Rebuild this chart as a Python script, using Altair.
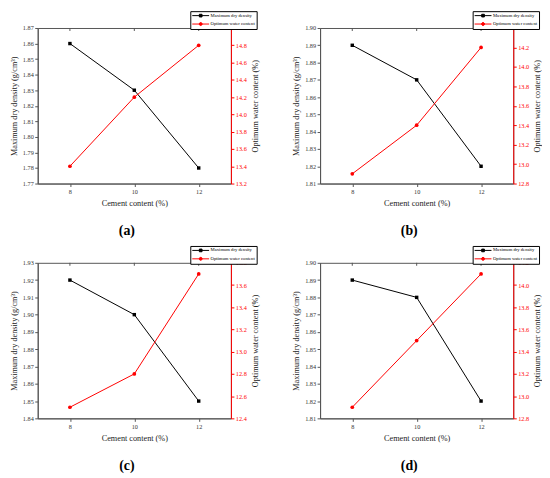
import altair as alt
import pandas as pd

FONT = "Liberation Serif"

cement = [8, 10, 12]
series_names = ["Maximum dry density", "Optimum water content"]
labels = ["(a)", "(b)", "(c)", "(d)"]

mdd_a = [1.86, 1.83, 1.78]
owc_a = [13.4, 14.2, 14.8]
mdd_b = [1.89, 1.87, 1.82]
owc_b = [12.9, 13.4, 14.2]
mdd_c = [1.92, 1.90, 1.85]
owc_c = [12.5, 12.8, 13.7]
mdd_d = [1.89, 1.88, 1.82]
owc_d = [12.9, 13.5, 14.1]

mdd_ticks_a = [1.77, 1.78, 1.79, 1.80, 1.81, 1.82, 1.83, 1.84, 1.85, 1.86, 1.87]
owc_ticks_a = [13.2, 13.4, 13.6, 13.8, 14.0, 14.2, 14.4, 14.6, 14.8, 15.0]
mdd_ticks_b = [1.81, 1.82, 1.83, 1.84, 1.85, 1.86, 1.87, 1.88, 1.89, 1.90]
owc_ticks_b = [12.8, 13.0, 13.2, 13.4, 13.6, 13.8, 14.0, 14.2, 14.4]
mdd_ticks_c = [1.84, 1.85, 1.86, 1.87, 1.88, 1.89, 1.90, 1.91, 1.92, 1.93]
owc_ticks_c = [12.4, 12.6, 12.8, 13.0, 13.2, 13.4, 13.6, 13.8]
mdd_ticks_d = [1.81, 1.82, 1.83, 1.84, 1.85, 1.86, 1.87, 1.88, 1.89, 1.90]
owc_ticks_d = [12.8, 13.0, 13.2, 13.4, 13.6, 13.8, 14.0, 14.2]

x_domain = [7, 13]

W, H = 195, 157
FRAME = "#555555"

legend_shapes = [
    "M-1,0H5.8M1.86,-0.54H2.94V0.54H1.86Z",
    "M3,0A0.6,0.6 0 1,1 1.8,0A0.6,0.6 0 1,1 3,0Z M-1,0H5.8",
]


def panel(label, mdd, owc, mdd_ticks, owc_ticks):
    df = pd.DataFrame({"cement": cement, "mdd": mdd, "owc": owc})
    base = alt.Chart(df)

    x = alt.X(
        "cement:Q",
        scale=alt.Scale(domain=x_domain, nice=False, zero=False),
        axis=alt.Axis(
            values=cement, format="d", title="Cement content (%)",
            labelFont=FONT, labelFontSize=6.3, labelColor="#333333",
            titleFont=FONT, titleFontSize=8.3, titleFontWeight="normal",
            titleColor="#222222", tickSize=3, tickColor=FRAME,
            domainColor=FRAME, labelPadding=2, titlePadding=4, grid=False,
        ),
    )
    yl = alt.Y(
        "mdd:Q",
        scale=alt.Scale(domain=[mdd_ticks[0], mdd_ticks[-1]], nice=False, zero=False),
        axis=alt.Axis(
            orient="left", values=mdd_ticks, format=".2f",
            title="Maximum dry density (g/cm³)",
            labelFont=FONT, labelFontSize=6.3, labelColor="#333333",
            titleFont=FONT, titleFontSize=8.3, titleFontWeight="normal",
            titleColor="#222222", tickSize=3, tickColor=FRAME,
            domainColor=FRAME, labelPadding=1.5, titlePadding=4, grid=False,
        ),
    )
    yr = alt.Y(
        "owc:Q",
        scale=alt.Scale(domain=[owc_ticks[0], owc_ticks[-1]], nice=False, zero=False),
        axis=alt.Axis(
            orient="right", values=owc_ticks, format=".1f",
            title="Optimum water content (%)",
            labelFont=FONT, labelFontSize=6.3, labelColor="red",
            titleFont=FONT, titleFontSize=8.3, titleFontWeight="normal",
            titleColor="#222222", titleAngle=270, titleBaseline="top",
            tickSize=3, tickColor="red", domainColor="red",
            labelPadding=1.5, titlePadding=4, grid=False,
        ),
    )

    leg = alt.Legend(
        title=None, orient="none", legendX=154, legendY=-17,
        labelFont=FONT, labelFontSize=4.7, labelColor="black",
        symbolSize=25, symbolStrokeWidth=1, labelOffset=13,
        rowPadding=0.5, padding=1.5, strokeColor="black", fillColor="white",
    )
    carrier = (
        base.transform_calculate(series="'Maximum dry density'")
        .transform_filter("false")
        .mark_point(filled=True, opacity=1)
        .encode(
            x=x, y=yl,
            fill=alt.Fill("series:N", scale=alt.Scale(domain=series_names, range=["black", "red"]), legend=leg),
            stroke=alt.Stroke("series:N", scale=alt.Scale(domain=series_names, range=["black", "red"]), legend=leg),
            shape=alt.Shape("series:N", scale=alt.Scale(domain=series_names, range=legend_shapes), legend=leg),
        )
    )

    left = alt.layer(
        base.mark_line(color="black", strokeWidth=1).encode(x=x, y=yl),
        base.mark_square(color="black", size=12, opacity=1).encode(x=x, y=yl),
        carrier,
    )
    right = alt.layer(
        base.mark_line(color="red", strokeWidth=1).encode(x=x, y=yr),
        base.mark_circle(color="red", size=14, opacity=1).encode(x=x, y=yr),
    )
    top_ticks = base.mark_rule(color=FRAME, strokeWidth=1).encode(
        x=x, y=alt.value(0), y2=alt.value(3)
    )
    text = alt.Chart(pd.DataFrame({"label": [label]})).mark_text(
        font=FONT, fontSize=14, fontWeight="bold", color="black", baseline="middle"
    ).encode(x=alt.value(90), y=alt.value(205), text="label:N")

    return (
        alt.layer(left, right, top_ticks, text)
        .resolve_scale(y="independent")
        .properties(width=W, height=H)
    )


pa = panel(labels[0], mdd_a, owc_a, mdd_ticks_a, owc_ticks_a)
pb = panel(labels[1], mdd_b, owc_b, mdd_ticks_b, owc_ticks_b)
pc = panel(labels[2], mdd_c, owc_c, mdd_ticks_c, owc_ticks_c)
pd_ = panel(labels[3], mdd_d, owc_d, mdd_ticks_d, owc_ticks_d)

chart = (
    alt.concat(pa, pb, pc, pd_, columns=2, spacing={"row": 80, "column": 90}, bounds="flush")
    .resolve_scale(fill="independent", stroke="independent", shape="independent")
    .resolve_legend(fill="independent", stroke="independent", shape="independent")
)

chart = chart.properties(padding=0, background="white").configure_view(
    stroke=FRAME, strokeWidth=1
)

chart.save("out.html", embed_options={"renderer": "svg", "actions": False})
